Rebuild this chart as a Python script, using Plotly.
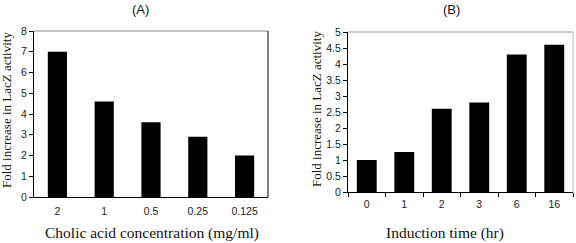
import plotly.graph_objects as go

# Panel A data
conc_labels = ["2", "1", "0.5", "0.25", "0.125"]
conc_values = [7.0, 4.6, 3.6, 2.9, 2.0]

# Panel B data
time_labels = ["0", "1", "2", "3", "6", "16"]
time_values = [1.0, 1.25, 2.6, 2.8, 4.3, 4.6]

W, H = 576, 243
def px(x): return x / W
def py(y): return (H - y) / H

fig = go.Figure()
fig.add_trace(go.Bar(x=conc_labels, y=conc_values, marker=dict(color="black", line=dict(width=0)),
                     width=0.41, xaxis="x", yaxis="y", showlegend=False))
fig.add_trace(go.Bar(x=time_labels, y=time_values, marker=dict(color="black", line=dict(width=0)),
                     width=0.53, xaxis="x2", yaxis="y2", showlegend=False))

tickfont = dict(family="Liberation Sans, Arial", size=10.5, color="#222")
ytitlefont = dict(family="Liberation Serif, Times New Roman", size=13, color="#111")
xtitlefont = dict(family="Liberation Serif, Times New Roman", size=15.5, color="#111")

fig.update_layout(
    width=W, height=H, margin=dict(l=0, r=0, t=0, b=0, autoexpand=False),
    paper_bgcolor="white", plot_bgcolor="white",
    xaxis=dict(domain=[px(34), px(268)], anchor="y", type="category", automargin=False,
               showline=True, linecolor="black", linewidth=1, ticks="",
               tickfont=tickfont, showgrid=False, ticklabelstandoff=4),
    yaxis=dict(domain=[py(197), py(31)], anchor="x", range=[0, 8], dtick=1, automargin=False,
               showline=True, linecolor="black", linewidth=1, ticks="outside", ticklen=4,
               tickcolor="black", tickfont=tickfont, showgrid=False, zeroline=False),
    xaxis2=dict(domain=[px(348), px(573)], anchor="y2", type="category", automargin=False,
                showline=True, linecolor="black", linewidth=1, ticks="outside", ticklen=4,
                tickson="boundaries", tickcolor="black", ticklabelstandoff=2,
                tickfont=tickfont, showgrid=False),
    yaxis2=dict(domain=[py(192), py(32)], anchor="x2", range=[0, 5], dtick=0.5, automargin=False,
                showline=True, linecolor="black", linewidth=1, ticks="outside", ticklen=4,
                tickcolor="black", tickfont=tickfont, showgrid=False, zeroline=False),
    bargap=0.5,
)

# frame lines (top gray, right)
fig.add_shape(type="line", xref="x domain", yref="y domain", x0=0, x1=1, y0=1, y1=1,
              line=dict(color="#888", width=1))
fig.add_shape(type="line", xref="x domain", yref="y domain", x0=1, x1=1, y0=0, y1=1,
              line=dict(color="black", width=1))
fig.add_shape(type="line", xref="x2 domain", yref="y2 domain", x0=0, x1=1, y0=1, y1=1,
              line=dict(color="#999", width=1))
fig.add_shape(type="line", xref="x2 domain", yref="y2 domain", x0=1, x1=1, y0=0, y1=1,
              line=dict(color="#bbb", width=1))

def label(text, x, y, font, angle=0):
    fig.add_annotation(text=text, x=px(x), y=py(y), xref="paper", yref="paper",
                       xanchor="center", yanchor="middle", textangle=angle,
                       showarrow=False, font=font)

panelfont = dict(family="Liberation Sans, Arial", size=13, color="#111")
label("(A)", 140, 9, panelfont)
label("(B)", 451, 9, panelfont)
label("Cholic acid concentration (mg/ml)", 152, 233, xtitlefont)
label("Induction time (hr)", 445, 233, xtitlefont)
label("Fold increase in LacZ activity", 6, 110, ytitlefont, -90)
label("Fold increase in LacZ activity", 317, 109, ytitlefont, -90)

fig.write_html("out.html", config={"displayModeBar": False},
               post_script="document.body.style.margin='0';document.body.style.overflow='hidden';")
